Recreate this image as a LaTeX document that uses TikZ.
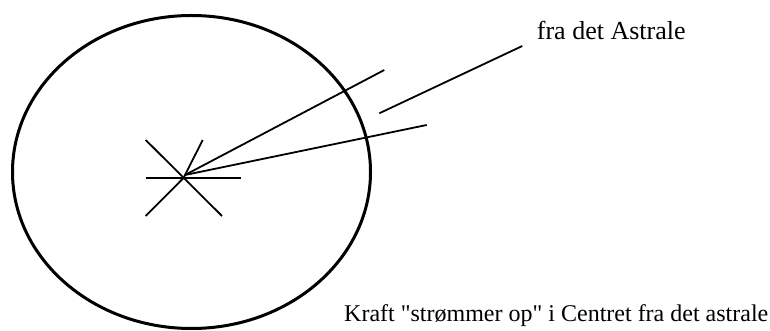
\documentclass[tikz,border=0pt]{standalone}
\usepackage{fontspec}
\setmainfont{Liberation Serif}
\usetikzlibrary{shapes.geometric}
\begin{document}
\begin{tikzpicture}[x=1pt,y=1pt,
  lbl/.style={anchor=base west,inner sep=0pt,font=\fontsize{24}{28}\selectfont},
  thin stroke/.style={line width=1.8pt,line cap=butt}]
\useasboundingbox (0,0) rectangle (770,331);
\node[draw,line width=3pt,ellipse,minimum width=358pt,minimum height=313pt,inner sep=0pt] (oval) at (191.5,159) {};
\coordinate (c) at (183.5,153);
\coordinate (h1) at (145.7,153);
\coordinate (h2) at (241,153);
\coordinate (d1) at (145.7,191);
\coordinate (d2) at (222,115);
\coordinate (e1) at (145.7,115);
\coordinate (e2) at (202.7,191);
\coordinate (rs) at (185,156);
\coordinate (r1) at (384.3,261);
\coordinate (r2) at (426.7,206);
\coordinate (s1) at (379.3,217.7);
\coordinate (s2) at (522.3,285);
\draw[thin stroke] (h1) -- (h2);
\draw[thin stroke] (d1) -- (d2);
\draw[thin stroke] (e1) -- (c) -- (e2);
\draw[thin stroke] (rs) -- (r1);
\draw[thin stroke] (rs) -- (r2);
\draw[thin stroke] (s1) -- (s2);
\node[lbl,font=\fontsize{26}{30}\selectfont] (top) at (536.7,291) {fra det Astrale};
\node[lbl] (bottom) at (344,9.3) {Kraft \textquotedbl strømmer op\textquotedbl{} i Centret fra det astrale};
\end{tikzpicture}
\end{document}
